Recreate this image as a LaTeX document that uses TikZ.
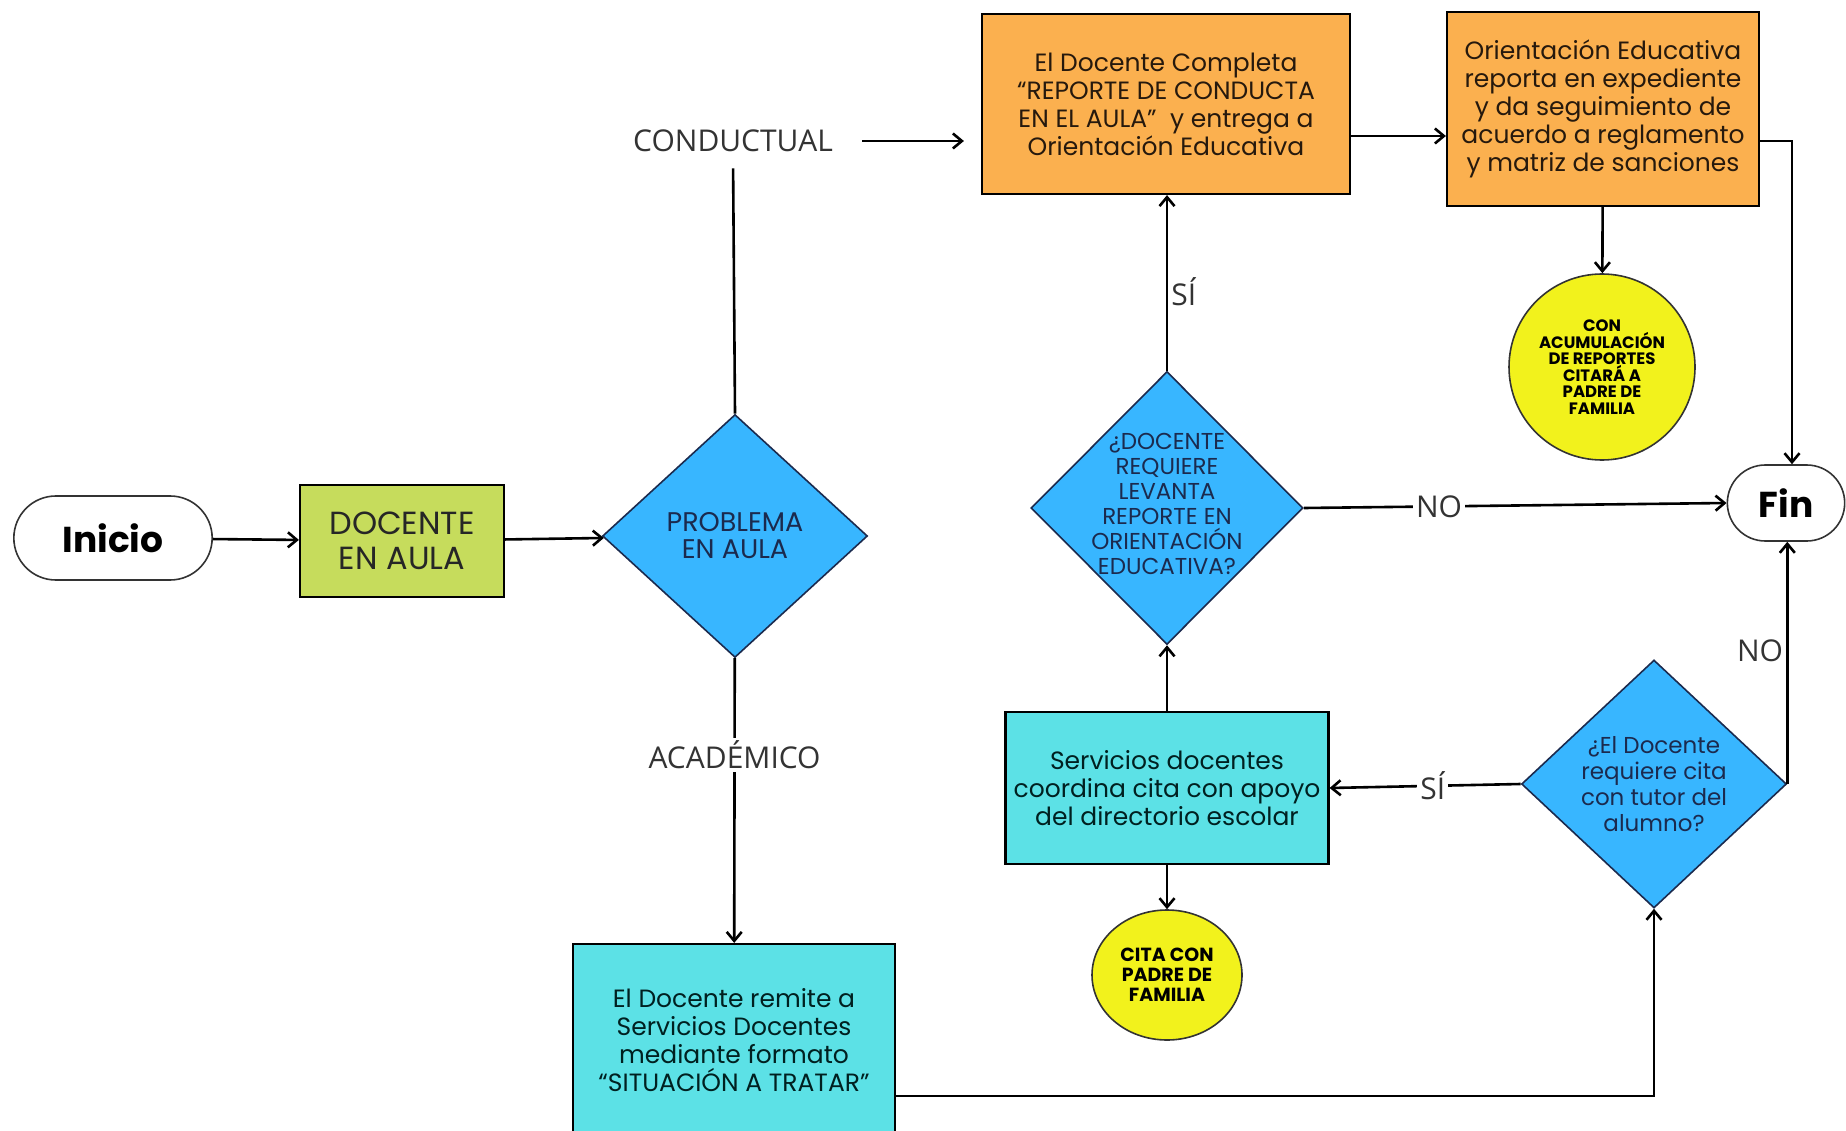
\documentclass[tikz,border=0pt]{standalone}
\usepackage{fontspec}
\setmainfont{Poppins}
\newfontfamily\lblfont{Open Sans}
\usetikzlibrary{arrows.meta,positioning,shapes,calc}

\definecolor{boxorange}{HTML}{FBB04F}
\definecolor{boxgreen}{HTML}{C6DC5C}
\definecolor{boxcyan}{HTML}{5CE1E6}
\definecolor{decblue}{HTML}{38B6FF}
\definecolor{dotyellow}{HTML}{F2F21C}
\definecolor{navy}{HTML}{1B2A4E}
\definecolor{lblgray}{HTML}{333333}

\begin{document}
\begin{tikzpicture}[x=1pt,y=-1pt,->,>={Straight Barb[length=9pt,width=15pt]},line width=2.6pt]
\tikzstyle{term}=[draw=black!80,line width=1.6pt,rounded rectangle,minimum width=124pt,minimum height=76pt,font=\bfseries\fontsize{36}{40}\selectfont]
\tikzstyle{process}=[draw,line width=2.2pt,rectangle,align=center,inner sep=0pt]
\tikzstyle{greenbox}=[process,fill=boxgreen,text=black!85,font=\fontsize{32}{35}\selectfont]
\tikzstyle{orangebox}=[process,fill=boxorange,text=black!80!brown,font=\fontsize{25}{28}\selectfont]
\tikzstyle{cyanbox}=[process,fill=boxcyan,text=black!75!teal,font=\fontsize{25}{28}\selectfont]
\tikzstyle{decision}=[diamond,draw=navy,line width=1.6pt,fill=decblue,text=navy,align=center,inner sep=0pt]
\tikzstyle{dtext}=[align=center,text=navy,inner sep=0pt]
\tikzstyle{yellowdot}=[ellipse,draw=black!80,line width=1.6pt,fill=dotyellow,align=center,inner sep=0pt,font=\bfseries\fontsize{16.5}{16.5}\selectfont]
\tikzstyle{branch}=[fill=white,text=lblgray,inner sep=3pt,font=\lblfont\fontsize{30}{34}\selectfont]

\useasboundingbox (0,0) rectangle (1846,1131);

% nodes
\node[term, minimum width=205pt, minimum height=84pt] (inicio) at (113,538) {Inicio};
\node[greenbox, minimum width=204pt, minimum height=112pt] (docente) at (402,541) {DOCENTE\\EN AULA};
\node[decision, minimum width=265pt, minimum height=243pt, font=\fontsize{27}{27}\selectfont] (prob) at (735,536) {PROBLEMA\\EN AULA};
\node[branch]    (cond)    at (733,141) {CONDUCTUAL};
\node[orangebox, minimum width=368pt, minimum height=180pt] (repcond) at (1166,104)
  {El Docente Completa\\``REPORTE DE CONDUCTA\\EN EL AULA''\ \ y entrega a\\Orientación Educativa};
\node[orangebox, minimum width=312pt, minimum height=194pt] (orient) at (1603,109)
  {Orientación Educativa\\reporta en expediente\\y da seguimiento de\\acuerdo a reglamento\\y matriz de sanciones};
\node[yellowdot, minimum size=186pt] (acum) at (1602,367)
  {CON\\ACUMULACIÓN\\DE REPORTES\\CITARÁ A\\PADRE DE\\FAMILIA};
\node[term]      (fin)     at (1786,503) {Fin};
\node[decision, minimum width=272pt, minimum height=273pt] (reqrep) at (1167,508) {};
\node[dtext, font=\fontsize{23}{25}\selectfont] (reqrept) at (1167,504)
  {¿DOCENTE\\REQUIERE\\LEVANTA\\REPORTE EN\\ORIENTACIÓN\\EDUCATIVA?};
\node[cyanbox, minimum width=323pt, minimum height=152pt] (servicios) at (1167,788)
  {Servicios docentes\\coordina cita con apoyo\\del directorio escolar};
\node[yellowdot, minimum width=150pt, minimum height=130pt, font=\bfseries\fontsize{19}{20}\selectfont] (citapadre) at (1167,975)
  {CITA CON\\PADRE DE\\FAMILIA};
\node[decision, minimum width=265pt, minimum height=248pt, font=\fontsize{23}{26}\selectfont] (reqcita) at (1654,784)
  {¿El Docente\\requiere cita\\con tutor del\\alumno?};
\node[cyanbox, minimum width=322pt, minimum height=192pt] (remite) at (734,1040)
  {El Docente remite a\\Servicios Docentes\\mediante formato\\``SITUACIÓN A TRATAR''};

% connectors
\draw (inicio) -- (docente);
\draw (docente) -- (prob);
\draw[-, shorten >=12pt] (prob.north) -- (cond.south);
\draw[shorten <=25pt, shorten >=17pt] (cond.east) -- (cond.east -| repcond.west);
\draw ([yshift=-32pt]repcond.east) -- ([yshift=-32pt]repcond.east -| orient.west);
\draw ([yshift=-32pt]orient.east) -| ([xshift=6pt]fin.north);
\draw (orient) -- (acum);
\draw (reqrep.north) -- node[branch, right, fill=none, pos=0.45] (si1) {SÍ} (reqrep.north |- repcond.south);
\draw (reqrep.east) -- node[branch, pos=0.32] (no1) {NO} (fin.west);
\draw (servicios) -- (reqrep);
\draw (servicios) -- (citapadre);
\draw (reqcita.west) -- node[branch, pos=0.46] (si2) {SÍ} (servicios.east);
\draw (reqcita.east) -- node[branch, left, fill=none, pos=0.55] (no2) {NO} (reqcita.east |- fin.south);
\draw (prob) -- node[branch, pos=0.34] (acad) {ACADÉMICO} (remite);
\draw ([yshift=-56pt]remite.east) -| (reqcita.south);
\end{tikzpicture}
\end{document}
